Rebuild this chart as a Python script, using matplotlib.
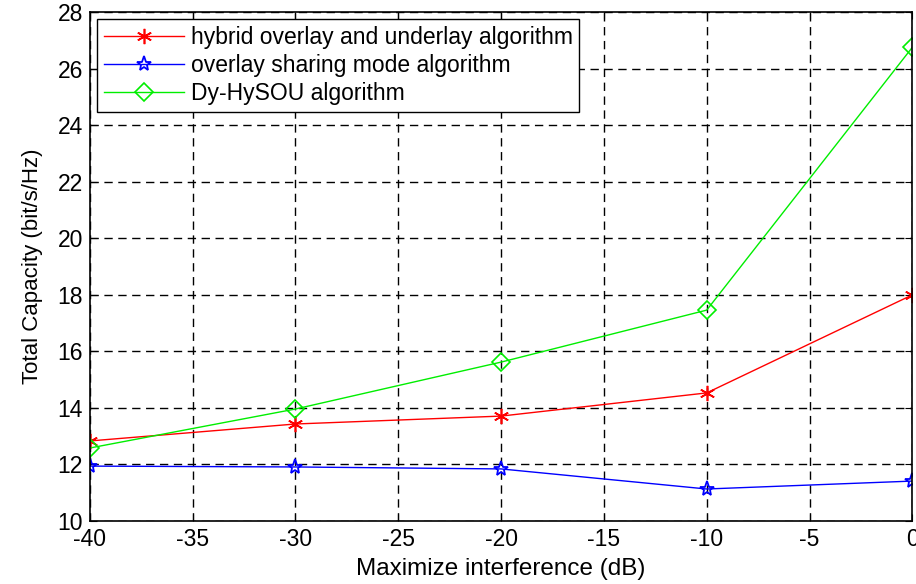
import numpy as np
import matplotlib.pyplot as plt

plt.rcParams['font.family'] = ['Liberation Sans', 'DejaVu Sans']
plt.rcParams['axes.unicode_minus'] = False

# ── Data ────────────────────────────────────────────────────
interference_db = [-40, -30, -20, -10, 0]
hybrid_cap = [12.83, 13.43, 13.71, 14.53, 18.0]
overlay_cap = [11.94, 11.91, 11.84, 11.13, 11.41]
dyhysou_cap = [12.58, 13.96, 15.62, 17.46, 26.76]

# ── Figure ──────────────────────────────────────────────────
fig = plt.figure(figsize=(9.16, 5.84), dpi=100)
ax = fig.add_axes([0.098, 0.108, 0.898, 0.871])

ax.plot(interference_db, hybrid_cap, color='#ff0000', marker=(6, 2, 0), markersize=11,
        markeredgecolor='#ff0000', markeredgewidth=1.2, linewidth=1,
        label='hybrid overlay and underlay algorithm')
ax.plot(interference_db, overlay_cap, color='#0000ff', marker='*', markersize=11,
        markerfacecolor='none', markeredgecolor='#0000ff', markeredgewidth=1.3,
        linewidth=1, label='overlay sharing mode algorithm')
ax.plot(interference_db, dyhysou_cap, color='#00ee00', marker='D', markersize=9,
        markerfacecolor='none', markeredgecolor='#00ee00', markeredgewidth=1.2,
        linewidth=1, label='Dy-HySOU algorithm')

ax.set_xlim(-40, 0)
ax.set_ylim(10, 28)
ax.set_xticks(np.arange(-40, 1, 5))
ax.set_yticks(np.arange(10, 29, 2))
ax.tick_params(direction='in', labelsize=16.5, top=True, right=True, length=5, pad=5)
ax.grid(True, color='black', linestyle=(0, (6, 4)), linewidth=1)
for s in ax.spines.values():
    s.set_linewidth(1.2)

ax.set_xlabel('Maximize interference (dB)', fontsize=17.5, labelpad=5)
ax.set_ylabel('Total Capacity (bit/s/Hz)', fontsize=16, labelpad=10)

leg = ax.legend(loc='upper left', fontsize=16.5, frameon=True, fancybox=False,
                edgecolor='black', borderaxespad=0.3, handlelength=3.5,
                labelspacing=0.22, borderpad=0.3, handletextpad=0.3)
leg.get_frame().set_linewidth(1)
leg.get_frame().set_alpha(1)

plt.savefig('out.png', dpi=100)
